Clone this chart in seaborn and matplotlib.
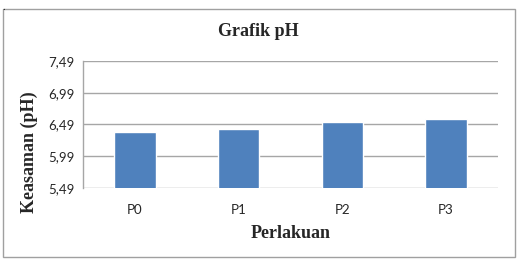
import pandas as pd
import numpy as np
import matplotlib.pyplot as plt
import seaborn as sns
from matplotlib.patches import Rectangle

# data
perlakuan = ['P0', 'P1', 'P2', 'P3']
ph = [6.37, 6.42, 6.52, 6.57]
yticks = [5.49, 5.99, 6.49, 6.99, 7.49]

df = pd.DataFrame({'Perlakuan': perlakuan, 'pH': ph})

sns.set_style("white")
plt.rcParams['font.family'] = ['Lato', 'DejaVu Sans']

fig = plt.figure(figsize=(5.29, 2.61), dpi=100)
ax = fig.add_axes([0.157, 0.281, 0.784, 0.485])

sns.barplot(data=df, x='Perlakuan', y='pH', color='#4F81BD', saturation=1,
            width=0.4, ax=ax, zorder=3)

ax.set_ylim(yticks[0], yticks[-1])
ax.set_yticks(yticks)
ax.set_yticklabels([f'{t:.2f}'.replace('.', ',') for t in yticks])
ax.grid(axis='y', color='#A6A6A6', linewidth=1, zorder=0)
ax.grid(axis='x', visible=False)
for s in ['top', 'right', 'bottom']:
    ax.spines[s].set_visible(False)
ax.spines['left'].set_color('#A6A6A6')
ax.spines['left'].set_linewidth(1)
ax.tick_params(axis='y', length=3, color='#A6A6A6', width=1, labelsize=9.5, pad=3)
ax.tick_params(axis='x', length=0, labelsize=9.5, pad=12)

serif = ['Liberation Serif', 'DejaVu Serif']
ax.set_xlabel('Perlakuan', family=serif, fontweight='bold', fontsize=13, labelpad=6)
ax.set_ylabel('Keasaman (pH)', family=serif, fontweight='bold', fontsize=13)
ax.yaxis.set_label_coords(0.072, 1 - 152 / 261, transform=fig.transFigure)
# title sits centred on the whole chart frame, not the plot area
fig.text(0.488, 1 - 32 / 261, 'Grafik pH', family=serif, fontweight='bold',
         fontsize=13, ha='center', va='center')

# outer chart frame
fig.patches.append(Rectangle((0.005, 0.015), 0.969, 0.95, transform=fig.transFigure,
                             fill=False, edgecolor='#A0A0A0', linewidth=1))
fig.text(0.004, 0.975, '.', fontsize=8, va='center')

fig.savefig('out.png', dpi=100)
